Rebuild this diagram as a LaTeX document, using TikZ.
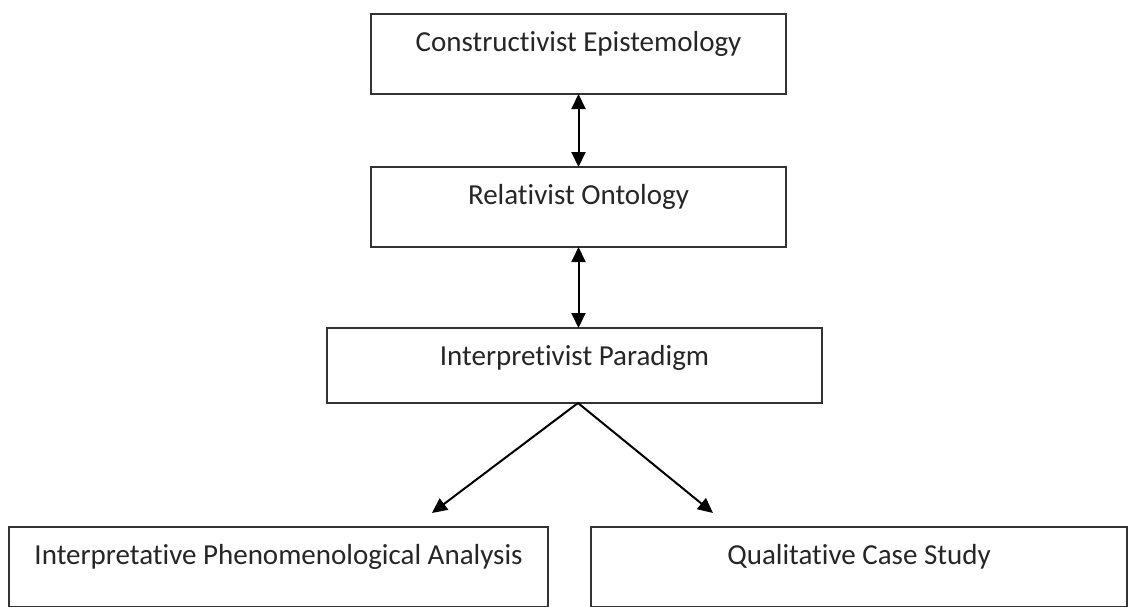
\documentclass[tikz,border=0pt]{standalone}
\usepackage{fontspec}
\setmainfont[Ligatures={NoCommon}]{Carlito}
\usetikzlibrary{arrows.meta}
\begin{document}
\begin{tikzpicture}[x=1pt,y=1pt,
  box/.style={draw=black!80, line width=1.6pt, fill=white, inner xsep=0pt,
    inner ysep=0pt, outer sep=0pt, text height=37pt, text depth=43pt,
    font=\fontsize{29}{34}\selectfont, text=black!85},
  tip/.tip={Triangle[length=15pt,width=14pt]},
  link/.style={line width=2pt, -tip},
  both/.style={line width=2pt, tip-tip}
]
\useasboundingbox (0,0) rectangle (1128,-606);
\clip (0,0) rectangle (1128,-606);

% stacked boxes
\node[box, minimum width=415pt, anchor=north] (epi) at (578.5,-14) {Constructivist Epistemology};
\node[box, minimum width=415pt, anchor=north] (onto) at (578.5,-167) {Relativist Ontology};
\node[box, minimum width=495pt, anchor=north, text depth=38pt] (para) at (574.5,-328) {Interpretivist Paradigm};

% the two methods at the bottom
\node[box, minimum width=539pt, anchor=north] (ipa) at (278.5,-527) {Interpretative Phenomenological Analysis};
\node[box, minimum width=536pt, anchor=north] (qcs) at (859,-527) {Qualitative Case Study};

% connectors
\draw[both] (epi.south) -- (onto.north);
\draw[both] (onto.south) -- (onto.south |- para.north);
\coordinate (fork) at (578,-403);
\coordinate (ipaTip) at (432,-513);
\coordinate (qcsTip) at (713,-513);
\draw[link] (fork) -- (ipaTip);
\draw[link] (fork) -- (qcsTip);
\end{tikzpicture}
\end{document}
